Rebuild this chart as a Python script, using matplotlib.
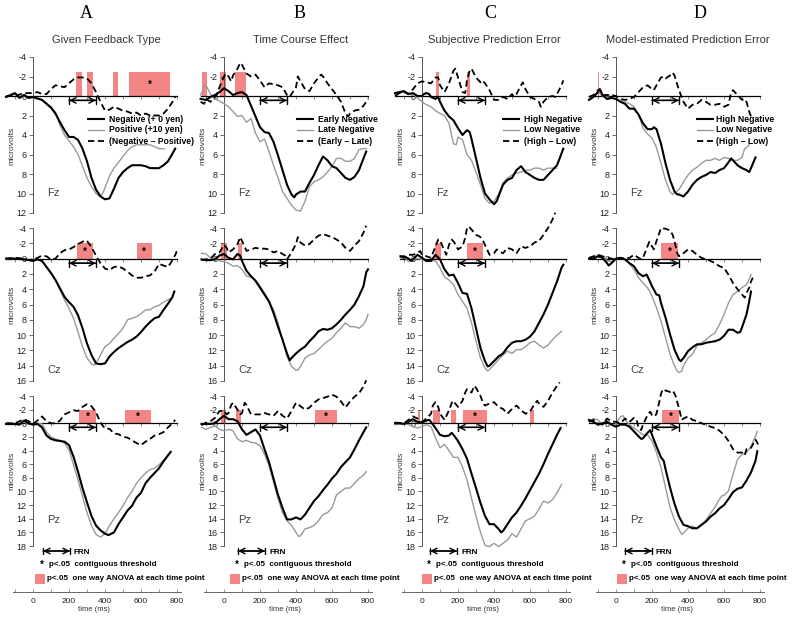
import matplotlib
matplotlib.use('Agg')
import matplotlib.pyplot as plt
from matplotlib.patches import Rectangle

plt.rcParams['font.family'] = ['Liberation Sans', 'DejaVu Sans']
plt.rcParams['axes.unicode_minus'] = False

# ---------------- data: (time ms, microvolts) ----------------
# A  Given Feedback Type
a_fz_black = [(-150, 0.1), (-125, -0.1), (-100, -0.3), (-75, 0.2), (-50, -0.1), (-25, 0.2), (0, 0.1), (50, 0.4),
              (100, 1.2), (125, 1.8), (150, 2.7), (175, 3.5), (200, 4.2), (225, 4.2), (250, 4.5), (275, 5.4),
              (300, 6.7), (325, 8.4), (350, 9.6), (375, 10.3), (400, 10.6), (425, 10.5), (450, 9.5), (475, 8.4),
              (500, 7.8), (525, 7.4), (550, 7.1), (575, 7.1), (600, 7.1), (625, 7.2), (650, 7.4), (675, 7.4),
              (700, 7.4), (725, 7.1), (750, 6.7), (775, 5.9), (790, 5.4)]
a_fz_gray = [(-150, 0.1), (-100, -0.2), (-75, 0.1), (-50, 0.0), (-25, 0.2), (0, 0.2), (50, 0.4), (100, 1.1),
             (125, 1.7), (150, 3.0), (175, 4.0), (200, 4.6), (225, 5.2), (250, 6.0), (275, 7.2), (300, 8.4),
             (325, 9.3), (350, 10.0), (370, 10.3), (385, 10.1), (400, 9.4), (425, 8.2), (450, 7.4), (475, 6.8),
             (500, 6.2), (525, 5.6), (550, 5.2), (575, 5.0), (600, 5.0), (625, 5.0), (650, 5.0), (675, 5.2),
             (700, 5.4), (730, 5.4)]
a_fz_diff = [(-150, 0.0), (-100, 0.0), (-50, -0.3), (0, -0.3), (25, -0.4), (50, -0.2), (75, -0.2), (100, -0.7),
             (125, -1.1), (150, -1.0), (175, -0.9), (200, -1.3), (225, -1.7), (250, -1.9), (275, -1.9),
             (300, -1.8), (325, -1.3), (350, -0.4), (375, 0.6), (400, 1.5), (425, 1.4), (450, 1.1), (475, 1.3),
             (500, 1.5), (525, 1.6), (550, 1.8), (575, 1.7), (600, 2.0), (625, 1.8), (650, 2.0), (675, 2.0),
             (700, 2.0), (725, 1.8), (750, 1.3), (775, 0.6), (790, 0.1)]
a_fz_sig = [(239, 270, False), (298, 335, False), (445, 474, False), (535, 760, True)]

a_cz_black = [(-150, 0.0), (-100, 0.0), (-50, 0.1), (-25, 0.2), (0, 0.3), (25, 0.1), (50, 0.3), (75, 1.1),
              (100, 1.9), (125, 2.8), (150, 3.9), (175, 5.0), (200, 5.7), (225, 6.3), (250, 7.4), (275, 9.1),
              (300, 11.1), (325, 12.6), (350, 13.7), (375, 13.8), (400, 13.7), (425, 12.8), (450, 12.2),
              (475, 11.7), (500, 11.3), (525, 10.9), (550, 10.6), (575, 10.2), (600, 9.6), (625, 8.9),
              (650, 8.3), (675, 7.8), (700, 7.6), (725, 6.7), (750, 5.9), (775, 5.0), (785, 4.3)]
a_cz_gray = [(-150, 0.0), (-100, 0.0), (-50, 0.1), (-25, 0.2), (0, 0.3), (25, 0.1), (50, 0.3), (75, 1.0),
             (100, 1.8), (125, 2.8), (150, 4.1), (175, 5.4), (200, 6.5), (225, 7.8), (250, 9.6), (275, 11.5),
             (300, 13.0), (325, 13.8), (340, 13.9), (350, 13.7), (375, 12.6), (400, 11.5), (425, 11.1),
             (450, 10.4), (475, 9.8), (500, 9.1), (525, 8.0), (550, 7.8), (575, 7.6), (600, 7.2), (625, 6.7),
             (650, 6.7), (675, 6.3), (700, 6.1), (725, 5.7), (750, 5.4), (775, 5.1)]
a_cz_diff = [(-150, 0.0), (-100, -0.1), (-50, 0.0), (-25, 0.2), (0, 0.1), (25, -0.1), (50, -0.4), (75, -0.3),
             (100, 0.1), (125, 0.0), (150, -0.7), (175, -1.1), (200, -1.2), (225, -1.5), (250, -1.9),
             (275, -2.2), (290, -2.4), (300, -2.3), (325, -1.5), (350, -0.4), (375, 0.6), (400, 1.3),
             (425, 1.5), (450, 1.1), (475, 1.0), (500, 1.3), (525, 1.7), (550, 2.2), (575, 2.5), (600, 2.5),
             (625, 2.3), (650, 2.2), (675, 1.7), (700, 0.7), (725, 0.9), (750, 1.1), (775, 0.2), (795, -0.7),
             (800, -1.3)]
a_cz_sig = [(245, 335, True), (575, 660, True)]

a_pz_black = [(-150, 0.1), (-100, 0.1), (-75, 0.2), (-50, -0.4), (-25, 0.0), (0, 0.2), (25, 0.1), (50, 0.6),
              (75, 1.8), (100, 2.3), (125, 2.5), (150, 2.6), (175, 2.7), (200, 3.2), (225, 4.9), (250, 7.1),
              (275, 9.5), (300, 11.6), (325, 13.6), (350, 15.0), (375, 15.7), (400, 16.2), (420, 16.4),
              (450, 16.0), (475, 14.8), (500, 13.8), (525, 12.8), (550, 12.1), (575, 10.9), (600, 10.2),
              (625, 8.8), (650, 8.0), (675, 7.3), (700, 6.6), (725, 5.6), (750, 4.7), (765, 4.2)]
a_pz_gray = [(-150, 0.2), (-100, 0.2), (-75, 0.1), (-50, -0.2), (-25, 0.1), (0, 0.2), (25, 0.0), (50, 0.1),
             (75, 1.3), (100, 2.0), (125, 2.3), (150, 2.5), (175, 2.9), (200, 3.9), (225, 6.1), (250, 8.3),
             (275, 10.7), (300, 13.1), (325, 15.0), (350, 16.3), (375, 16.7), (400, 16.2), (425, 15.0),
             (450, 14.0), (475, 13.1), (500, 12.1), (525, 10.9), (550, 10.0), (575, 8.8), (600, 8.0),
             (625, 7.3), (650, 6.8), (675, 6.6), (700, 6.1), (725, 5.4), (750, 4.7)]
a_pz_diff = [(-150, 0.0), (-100, 0.0), (-75, -0.3), (-50, -0.6), (-25, -0.3), (0, 0.1), (25, -0.4), (50, -1.0),
             (75, -0.3), (100, 0.0), (125, 0.0), (150, -0.4), (175, -1.3), (200, -1.6), (225, -1.9),
             (250, -1.8), (275, -2.4), (300, -2.8), (325, -2.5), (350, -1.6), (375, -0.1), (400, 0.8),
             (425, 0.8), (450, 1.5), (475, 1.6), (500, 2.0), (525, 2.1), (550, 2.5), (575, 2.9), (600, 3.2),
             (625, 2.7), (650, 2.3), (675, 1.8), (700, 1.6), (725, 1.3), (750, 0.6), (775, 0.0), (790, -0.5)]
a_pz_sig = [(203, 208, False), (255, 350, True), (510, 655, True)]

# B  Time Course Effect
b_fz_black = [(-130, 0.3), (-100, 0.4), (-75, 0.1), (-50, -0.1), (-25, -0.4), (0, -0.8), (25, -0.5), (50, -0.1),
              (75, -0.3), (100, -0.4), (125, -0.1), (150, 1.0), (175, 2.1), (200, 3.2), (225, 3.7), (250, 3.8),
              (275, 4.7), (300, 6.1), (325, 7.6), (350, 9.1), (375, 10.1), (390, 10.4), (400, 10.1),
              (425, 9.8), (450, 9.8), (475, 8.9), (500, 8.1), (525, 7.1), (550, 6.2), (575, 6.6), (600, 7.2),
              (625, 7.4), (650, 7.9), (675, 8.4), (700, 8.6), (725, 8.3), (750, 7.6), (775, 6.4), (790, 5.7)]
b_fz_gray = [(-130, -0.1), (-110, -0.9), (-100, -1.1), (-75, -0.2), (-50, 0.3), (-25, 0.5), (0, 0.8), (25, 1.1),
             (50, 1.6), (75, 2.1), (100, 2.0), (125, 2.7), (150, 2.3), (175, 3.8), (200, 4.7), (225, 4.4),
             (250, 5.7), (275, 7.1), (300, 8.4), (325, 9.8), (350, 10.5), (375, 11.2), (400, 11.7),
             (425, 11.8), (450, 10.8), (475, 9.3), (500, 8.8), (525, 8.6), (550, 8.3), (575, 7.8), (600, 7.2),
             (625, 6.4), (650, 6.4), (675, 6.7), (700, 6.7), (725, 6.4), (750, 5.5), (775, 5.4), (790, 5.4)]
b_fz_diff = [(-130, 0.6), (-110, 0.8), (-100, 0.3), (-75, 0.6), (-50, 0.1), (-40, -0.2), (-25, -0.9), (0, -2.0),
             (10, -2.3), (25, -2.0), (40, -1.5), (50, -2.1), (75, -2.8), (90, -3.4), (100, -3.2), (125, -2.3),
             (150, -2.0), (175, -2.2), (200, -1.6), (225, -0.9), (250, -1.3), (275, -1.2), (300, -1.1),
             (325, -0.9), (350, -0.1), (365, 0.1), (375, -0.2), (400, -0.9), (410, -2.0), (425, -1.5),
             (450, -0.7), (475, -0.5), (500, -1.3), (525, -1.9), (540, -2.2), (550, -2.0), (575, -1.3),
             (600, -0.7), (625, -0.1), (650, 0.6), (675, 1.8), (690, 2.1), (700, 1.8), (725, 1.5), (750, 1.4),
             (775, 1.0), (790, 0.6), (800, 0.3)]
b_fz_sig = [(-120, -94, False), (-20, 13, False), (59, 120, False)]

b_cz_black = [(-125, 0.1), (-100, 0.2), (-75, 0.2), (-50, 0.1), (-25, -0.4), (0, -0.6), (25, -0.1), (50, 0.1),
              (75, -0.6), (90, -0.4), (100, 0.3), (125, 1.6), (150, 2.3), (175, 2.9), (200, 3.8), (225, 4.7),
              (250, 5.6), (275, 7.1), (300, 8.9), (325, 10.6), (350, 12.4), (365, 13.3), (375, 13.0),
              (400, 12.4), (425, 11.9), (450, 11.5), (475, 10.8), (500, 10.2), (525, 9.5), (550, 9.2),
              (575, 9.3), (600, 9.1), (625, 8.6), (650, 8.0), (675, 7.3), (700, 6.7), (725, 6.0), (750, 4.9),
              (775, 3.6), (790, 1.8), (800, 1.4)]
b_cz_gray = [(-125, -0.7), (-100, -0.6), (-75, -0.1), (-50, 0.1), (-25, 0.3), (0, 0.4), (25, 0.6), (50, 1.0),
             (75, 0.9), (100, 1.4), (125, 2.3), (150, 2.4), (175, 2.8), (200, 3.6), (225, 4.5), (250, 5.6),
             (275, 6.7), (300, 8.4), (325, 10.6), (350, 12.8), (375, 14.1), (400, 14.6), (410, 14.6),
             (425, 14.1), (450, 13.0), (475, 12.6), (500, 12.4), (525, 11.9), (550, 11.3), (575, 10.8),
             (600, 10.4), (625, 9.7), (650, 9.1), (675, 8.4), (700, 8.9), (725, 8.9), (750, 9.1), (775, 8.6),
             (790, 8.0), (800, 7.3)]
b_cz_diff = [(-125, 0.2), (-100, 0.1), (-75, 0.0), (-50, -0.6), (-25, -0.8), (0, -1.8), (15, -1.4), (25, -0.8),
             (50, -1.2), (75, -1.9), (90, -2.8), (100, -2.3), (125, -1.0), (150, -1.2), (175, -1.4),
             (200, -1.3), (225, -1.3), (250, -1.2), (275, -0.8), (300, -1.0), (325, -0.6), (340, -0.4),
             (350, 0.1), (375, -0.8), (400, -1.9), (410, -2.8), (425, -2.1), (450, -1.7), (475, -1.9),
             (500, -2.5), (525, -3.0), (550, -3.2), (575, -3.0), (600, -2.8), (625, -2.5), (650, -2.1),
             (675, -1.4), (700, -1.0), (725, -1.7), (750, -2.3), (775, -3.4), (790, -4.3)]
b_cz_sig = [(-19, 15, False), (76, 99, False)]

b_pz_black = [(-125, 0.1), (-100, 0.1), (-75, 0.1), (-50, 0.0), (-25, -0.6), (0, -1.1), (25, -0.6), (50, -0.6),
              (75, -0.3), (100, 0.9), (125, 1.7), (150, 1.3), (175, 0.9), (200, 1.8), (225, 3.8), (250, 5.7),
              (275, 8.1), (300, 10.5), (325, 12.4), (350, 14.1), (375, 14.1), (400, 13.8), (425, 14.1),
              (450, 13.4), (475, 12.4), (500, 11.4), (525, 10.7), (550, 9.8), (575, 9.0), (600, 8.1),
              (625, 7.4), (650, 6.4), (675, 5.7), (700, 5.0), (725, 3.8), (750, 2.5), (775, 1.3), (790, 0.6)]
b_pz_gray = [(-125, 0.6), (-100, 0.9), (-75, 0.6), (-50, 0.4), (-25, 0.9), (0, 1.1), (25, 0.9), (50, 1.1),
             (75, 2.3), (100, 2.7), (125, 2.5), (150, 2.8), (175, 2.9), (200, 3.3), (225, 4.5), (250, 6.2),
             (275, 8.6), (300, 11.0), (325, 13.1), (350, 14.3), (375, 15.0), (400, 16.0), (415, 16.6),
             (425, 16.5), (450, 15.5), (475, 15.3), (500, 15.0), (525, 14.3), (550, 13.4), (575, 13.1),
             (600, 12.4), (625, 10.5), (650, 10.0), (675, 9.5), (700, 9.5), (725, 8.8), (750, 8.1),
             (775, 7.6), (790, 7.1)]
b_pz_diff = [(-125, 0.3), (-100, -0.1), (-75, -0.3), (-50, -0.8), (-25, -1.8), (0, -1.8), (15, -1.3), (25, -1.5),
             (40, -2.7), (50, -3.0), (75, -2.0), (90, -1.3), (100, -1.5), (115, -3.0), (125, -2.7), (150, -1.3),
             (175, -1.3), (200, -1.3), (225, -1.5), (250, -1.3), (275, -1.1), (300, -1.8), (325, -1.1),
             (350, -0.7), (375, -1.8), (400, -3.0), (425, -2.5), (450, -2.0), (475, -2.3), (500, -3.0),
             (525, -3.5), (550, -3.7), (575, -3.9), (600, -4.2), (625, -3.9), (650, -3.2), (675, -2.3),
             (700, -3.2), (725, -3.9), (750, -4.4), (775, -5.4), (790, -6.3)]
b_pz_sig = [(-17, 11, False), (67, 93, False), (503, 629, True)]

# C  Subjective Prediction Error
c_fz_black = [(-150, -0.3), (-125, -0.4), (-100, -0.5), (-75, -0.2), (-50, -0.3), (-25, 0.0), (0, 0.0),
              (10, -0.2), (25, -0.3), (40, -0.2), (50, 0.1), (75, 0.3), (90, 0.1), (100, 0.6), (125, 1.5),
              (150, 2.1), (175, 2.5), (200, 3.3), (225, 4.0), (250, 3.5), (265, 3.7), (275, 4.4), (300, 6.4),
              (325, 8.4), (350, 10.0), (375, 10.6), (400, 11.1), (415, 10.8), (425, 10.3), (450, 9.1),
              (475, 8.6), (500, 8.4), (525, 7.6), (550, 7.2), (575, 7.8), (600, 8.1), (625, 8.4), (650, 8.6),
              (675, 8.6), (700, 8.1), (725, 7.6), (750, 7.1), (775, 5.9), (785, 5.4)]
c_fz_gray = [(-150, -0.2), (-100, -0.4), (-50, -0.2), (0, 0.6), (25, 0.9), (50, 1.1), (75, 1.5), (100, 1.8),
             (125, 2.0), (150, 2.8), (175, 4.9), (190, 5.0), (200, 4.2), (225, 4.5), (250, 6.0), (275, 6.6),
             (300, 7.8), (325, 9.1), (350, 10.5), (375, 11.0), (400, 10.8), (425, 10.1), (450, 8.9),
             (475, 8.4), (500, 8.1), (525, 7.9), (550, 7.8), (575, 7.6), (600, 7.6), (625, 7.4), (650, 7.4),
             (675, 7.6), (700, 7.4), (725, 7.4), (750, 7.4)]
c_fz_diff = [(-150, 0.0), (-125, -0.3), (-100, -0.4), (-75, -0.2), (-50, -0.7), (-25, -1.3), (0, -1.5),
             (25, -1.4), (50, -1.3), (75, -1.9), (90, -1.9), (100, -1.1), (125, -0.4), (150, -1.3),
             (175, -2.6), (185, -2.8), (200, -1.9), (225, -0.4), (240, -0.3), (250, -1.6), (265, -2.6),
             (275, -2.8), (300, -1.9), (325, -1.4), (335, -1.6), (350, -1.3), (375, -0.6), (400, 0.4),
             (425, 0.4), (450, 0.1), (475, 0.3), (500, -0.2), (510, 0.1), (525, -0.2), (550, -1.1),
             (560, -1.4), (575, -0.7), (600, 0.1), (625, 0.3), (650, 0.6), (660, 1.1), (675, 0.6), (700, 0.1),
             (725, 0.0), (740, 0.1), (750, -0.2), (775, -1.1), (785, -1.6)]
c_fz_sig = [(75, 94, False), (248, 267, False)]

c_cz_black = [(-120, -0.3), (-100, -0.3), (-75, 0.0), (-60, 0.3), (-50, 0.1), (-25, -0.5), (0, -0.1), (25, 0.3),
              (50, 0.3), (75, -0.5), (100, 0.1), (125, 1.4), (150, 2.2), (175, 2.1), (200, 3.2), (225, 4.5),
              (250, 4.6), (275, 6.5), (300, 9.1), (325, 11.7), (350, 13.4), (365, 14.1), (375, 14.0),
              (400, 13.4), (425, 12.8), (450, 12.4), (475, 11.6), (500, 11.0), (525, 10.8), (550, 10.8),
              (575, 10.6), (600, 10.2), (625, 9.5), (650, 8.4), (675, 7.3), (700, 6.0), (725, 4.5), (750, 3.0),
              (775, 1.2), (785, 0.8)]
c_cz_gray = [(-120, 0.0), (-100, -0.3), (-75, 0.4), (-50, 0.1), (-25, 0.0), (0, 0.1), (25, 0.4), (50, 0.3),
             (75, 0.3), (100, 1.2), (125, 2.4), (150, 2.8), (175, 3.4), (200, 4.7), (225, 5.6), (250, 6.5),
             (275, 8.4), (300, 10.8), (325, 13.0), (350, 14.3), (365, 14.7), (375, 14.5), (400, 13.9),
             (425, 13.2), (450, 12.6), (475, 12.1), (500, 12.4), (525, 11.9), (550, 11.9), (575, 11.5),
             (600, 11.0), (625, 10.8), (650, 11.3), (675, 11.7), (700, 11.3), (725, 10.6), (750, 10.0),
             (775, 9.5)]
c_cz_diff = [(-120, -0.3), (-100, -0.1), (-75, -0.5), (-50, -0.5), (-25, -0.7), (-10, -1.0), (0, -0.5),
             (25, -0.3), (50, -0.1), (60, -0.7), (75, -1.6), (90, -2.5), (100, -2.4), (125, -1.0), (135, -0.5),
             (150, -1.8), (165, -2.5), (180, -2.1), (200, -1.2), (225, -1.6), (240, -2.7), (250, -4.0),
             (260, -4.2), (275, -3.8), (300, -3.1), (320, -2.9), (335, -2.5), (350, -1.8), (375, -0.5),
             (400, -0.7), (415, -1.2), (425, -1.0), (450, -0.7), (475, -1.4), (500, -1.2), (525, -0.7),
             (550, -1.6), (575, -1.4), (600, -1.6), (625, -2.1), (650, -2.3), (675, -3.1), (700, -4.0),
             (725, -5.1), (740, -6.0)]
c_cz_sig = [(71, 108, False), (248, 340, True)]

c_pz_black = [(-150, 0.0), (-120, 0.0), (-100, 0.1), (-75, -0.2), (-50, -0.6), (-25, -0.2), (0, -0.1),
              (25, -0.4), (40, -0.5), (50, -0.2), (75, 0.7), (100, 1.7), (125, 1.9), (150, 1.8), (165, 1.4),
              (175, 1.7), (200, 2.6), (225, 3.8), (250, 5.2), (275, 7.4), (300, 9.5), (325, 11.7), (350, 13.6),
              (375, 14.8), (400, 14.8), (425, 15.5), (440, 16.0), (450, 15.8), (475, 14.8), (500, 13.8),
              (525, 13.1), (550, 12.1), (575, 11.0), (600, 9.8), (625, 8.6), (650, 7.4), (675, 6.0),
              (700, 4.5), (725, 3.1), (750, 1.7), (770, 0.7)]
c_pz_gray = [(-150, 0.2), (-100, 0.1), (-75, 0.2), (-50, 0.5), (-25, 0.7), (0, 0.5), (25, 0.2), (50, 0.5),
             (75, 2.1), (100, 3.6), (125, 3.1), (150, 4.0), (175, 5.0), (200, 5.0), (225, 6.4), (250, 8.3),
             (275, 11.0), (300, 13.6), (325, 16.0), (350, 17.9), (375, 18.1), (400, 17.6), (425, 18.1),
             (450, 17.6), (475, 17.1), (500, 16.2), (525, 16.7), (550, 15.5), (575, 14.3), (600, 14.0),
             (625, 13.6), (650, 12.6), (675, 11.4), (700, 11.7), (725, 11.2), (750, 10.2), (775, 9.0)]
c_pz_diff = [(-150, -0.1), (-100, 0.0), (-75, -0.5), (-50, -1.0), (-25, -0.7), (0, -0.2), (25, -0.7),
             (50, -1.4), (60, -2.6), (75, -3.1), (90, -2.4), (100, -1.4), (125, -0.5), (150, -1.9),
             (170, -3.3), (185, -2.9), (200, -2.4), (225, -3.3), (240, -4.5), (250, -5.0), (275, -4.5),
             (290, -5.5), (300, -5.2), (325, -4.0), (340, -2.9), (350, -2.6), (375, -2.9), (400, -3.1),
             (425, -2.4), (450, -2.1), (475, -1.4), (500, -2.1), (525, -2.6), (550, -1.9), (575, -1.4),
             (600, -1.7), (620, -2.6), (640, -3.3), (650, -2.9), (675, -2.4), (700, -3.3), (725, -4.5),
             (750, -5.5), (765, -6.0)]
c_pz_sig = [(-25, -10, False), (62, 99, False), (159, 190, False), (226, 360, True), (601, 624, False)]

# D  Model-estimated Prediction Error
d_fz_black = [(-150, 0.4), (-125, 0.1), (-100, -0.4), (-90, -0.7), (-75, -0.1), (-50, 0.3), (-25, 0.2),
              (0, 0.3), (25, 0.6), (50, 0.8), (75, 1.3), (100, 1.3), (125, 1.9), (150, 2.8), (175, 3.4),
              (200, 3.4), (210, 3.2), (225, 3.4), (250, 4.9), (275, 6.9), (300, 8.6), (325, 9.8), (340, 10.1),
              (350, 10.1), (375, 10.3), (400, 9.8), (425, 9.1), (450, 8.6), (475, 8.3), (500, 8.1), (525, 7.8),
              (550, 7.9), (575, 7.6), (600, 7.4), (625, 6.8), (640, 6.4), (650, 6.6), (675, 7.1), (700, 7.4),
              (725, 7.6), (740, 7.8), (750, 7.4), (775, 6.3)]
d_fz_gray = [(-150, 0.1), (-125, -0.1), (-100, -0.4), (-75, 0.0), (-50, 0.1), (0, 0.3), (50, 0.6), (75, 0.8),
             (100, 1.1), (125, 1.9), (150, 3.3), (175, 3.9), (200, 4.3), (225, 5.3), (250, 6.9), (275, 8.6),
             (300, 9.8), (315, 10.1), (325, 9.9), (350, 9.6), (375, 8.8), (400, 8.1), (425, 7.6), (450, 7.3),
             (475, 6.9), (500, 6.6), (525, 6.6), (550, 6.4), (575, 6.6), (600, 6.3), (625, 6.4), (650, 6.6),
             (675, 6.6), (700, 6.3), (715, 5.4), (725, 5.3), (740, 5.0)]
d_fz_diff = [(-150, 0.1), (-125, -0.1), (-100, -0.6), (-90, -0.7), (-75, -0.1), (-50, -0.1), (-25, -0.1),
             (0, 0.0), (25, 0.3), (50, 0.4), (75, 0.3), (100, 0.1), (125, -0.4), (150, -0.9), (175, -1.1),
             (200, -0.7), (210, -0.6), (225, -1.1), (250, -1.9), (265, -2.0), (275, -1.8), (300, -2.1),
             (315, -2.4), (325, -2.1), (340, -1.2), (350, -0.6), (375, 0.6), (400, 1.3), (425, 0.9),
             (450, 0.8), (475, 0.4), (500, 0.6), (525, 0.9), (550, 0.9), (575, 0.8), (600, 1.1), (625, 0.9),
             (640, -0.4), (650, -0.6), (675, -0.1), (700, 0.4), (715, 0.3), (725, 0.6), (740, 1.6),
             (750, 2.1), (760, 2.3)]
d_fz_sig = [(-100, -95, False)]

d_cz_black = [(-150, 0.0), (-125, 0.0), (-100, -0.3), (-75, -0.1), (-50, 0.6), (-40, 0.9), (-25, 0.6), (0, 0.0),
              (25, -0.1), (50, 0.1), (75, 0.6), (100, 1.0), (125, 1.9), (150, 2.3), (170, 2.1), (175, 2.3),
              (200, 3.6), (225, 4.7), (240, 4.8), (250, 5.8), (275, 7.7), (300, 9.9), (325, 11.9), (350, 13.2),
              (360, 13.4), (375, 13.0), (400, 12.1), (425, 11.6), (450, 11.2), (475, 11.2), (500, 11.0),
              (525, 10.9), (550, 10.8), (575, 10.6), (600, 10.1), (625, 9.3), (650, 9.3), (675, 9.7),
              (690, 9.6), (700, 9.0), (725, 7.3), (740, 5.6), (750, 4.3)]
d_cz_gray = [(-150, 0.0), (-125, -0.1), (-100, -0.5), (-75, -0.3), (-50, 0.3), (-25, 0.4), (0, 0.0), (25, -0.1),
             (50, 0.1), (75, 0.7), (100, 1.4), (125, 2.5), (150, 3.2), (175, 3.8), (200, 4.9), (225, 6.4),
             (250, 8.2), (275, 10.3), (300, 12.5), (325, 14.0), (340, 14.7), (350, 14.9), (365, 14.7),
             (375, 14.0), (400, 13.0), (425, 12.5), (450, 11.4), (475, 11.0), (500, 10.6), (525, 10.1),
             (550, 9.7), (575, 8.6), (600, 7.3), (625, 5.8), (650, 4.7), (675, 4.3), (700, 3.8), (725, 3.4),
             (740, 2.7), (750, 2.1)]
d_cz_diff = [(-150, -0.1), (-125, -0.3), (-100, -0.5), (-75, -0.3), (-50, -0.1), (-25, 0.0), (0, 0.1),
             (25, -0.1), (50, 0.0), (75, -0.1), (100, -0.5), (125, -0.1), (140, 0.1), (150, -0.1), (175, -1.6),
             (185, -2.2), (200, -1.6), (210, -1.2), (225, -2.3), (240, -3.3), (250, -4.0), (275, -3.9),
             (300, -3.7), (315, -3.1), (325, -2.3), (340, -0.7), (350, -0.3), (375, -0.7), (400, -1.2),
             (425, -1.0), (450, -0.5), (475, -0.1), (500, 0.1), (525, 0.3), (550, 0.6), (575, 1.0), (600, 1.2),
             (625, 2.1), (650, 3.2), (675, 4.0), (700, 4.7), (715, 5.1), (725, 4.5), (740, 3.8), (750, 3.0),
             (760, 2.5)]
d_cz_sig = [(252, 344, True)]

d_pz_black = [(-150, -0.5), (-125, -0.2), (-100, 0.2), (-75, 0.0), (-50, -0.2), (-25, 0.2), (0, 0.5), (25, 0.2),
              (50, 0.2), (75, 0.5), (100, 1.2), (125, 1.9), (140, 2.3), (150, 2.2), (175, 1.4), (190, 1.0),
              (200, 1.7), (225, 3.4), (250, 5.0), (265, 5.5), (275, 6.7), (300, 9.4), (325, 11.8), (350, 13.7),
              (375, 14.9), (400, 15.1), (425, 15.4), (450, 15.4), (475, 14.9), (500, 14.4), (525, 13.7),
              (550, 13.2), (575, 12.5), (600, 12.0), (625, 11.1), (650, 10.1), (675, 9.6), (700, 9.4),
              (725, 8.4), (750, 7.2), (775, 5.5), (785, 4.1)]
d_pz_gray = [(-150, -0.3), (-125, -0.7), (-100, -0.5), (-75, 0.2), (-50, -0.5), (-25, 0.2), (-10, 0.5), (0, 0.0),
             (25, -1.0), (40, -1.1), (50, -0.5), (75, 0.2), (100, 0.7), (125, 1.2), (150, 1.7), (175, 1.7),
             (200, 2.6), (225, 4.3), (250, 6.5), (275, 9.4), (300, 12.3), (325, 14.2), (350, 15.6),
             (365, 16.3), (375, 16.1), (400, 15.4), (425, 15.1), (450, 15.4), (475, 14.9), (500, 14.2),
             (525, 13.2), (550, 12.3), (575, 11.1), (590, 10.6), (600, 10.6), (625, 9.9), (650, 7.5),
             (675, 5.3), (700, 4.6), (725, 4.3), (750, 3.4), (775, 1.9), (785, 1.2)]
d_pz_diff = [(-150, -0.2), (-125, -0.5), (-100, 0.0), (-75, 0.2), (-50, -0.7), (-25, -0.3), (0, -0.2), (25, 0.0),
             (50, -0.7), (75, -0.2), (100, -0.8), (115, -0.5), (125, 0.7), (140, 1.0), (150, 0.2), (175, -1.2),
             (190, -1.7), (200, -1.2), (215, -1.0), (225, -1.4), (240, -3.1), (250, -4.3), (260, -5.0),
             (275, -4.8), (300, -4.6), (315, -4.8), (330, -4.1), (350, -2.2), (365, -0.5), (375, -0.7),
             (400, -1.0), (425, -0.5), (450, -0.3), (475, 0.0), (500, 0.2), (525, 0.5), (550, 0.7), (575, 1.1),
             (600, 1.7), (625, 2.6), (650, 3.8), (675, 4.3), (700, 4.3), (715, 4.7), (725, 3.8), (740, 3.8),
             (750, 3.6), (765, 2.9), (775, 2.4), (790, 3.1)]
d_pz_sig = [(254, 352, True)]

letters = ['A', 'B', 'C', 'D']
titles = ['Given Feedback Type', 'Time Course Effect', 'Subjective Prediction Error',
          'Model-estimated Prediction Error']
legend_labels = [['Negative (+ 0 yen)', 'Positive (+10 yen)', '(Negative \u2013 Positive)'],
                 ['Early Negative', 'Late Negative', '(Early \u2013 Late)'],
                 ['High Negative', 'Low Negative', '(High \u2013 Low)'],
                 ['High Negative', 'Low Negative', '(High \u2013 Low)']]
electrodes = ['Fz', 'Cz', 'Pz']
y_max = [12, 16, 18]
time_ticks = [0, 200, 400, 600, 800]
frn_window = (200, 350)

panels = [
    [(a_fz_black, a_fz_gray, a_fz_diff, a_fz_sig), (a_cz_black, a_cz_gray, a_cz_diff, a_cz_sig),
     (a_pz_black, a_pz_gray, a_pz_diff, a_pz_sig)],
    [(b_fz_black, b_fz_gray, b_fz_diff, b_fz_sig), (b_cz_black, b_cz_gray, b_cz_diff, b_cz_sig),
     (b_pz_black, b_pz_gray, b_pz_diff, b_pz_sig)],
    [(c_fz_black, c_fz_gray, c_fz_diff, c_fz_sig), (c_cz_black, c_cz_gray, c_cz_diff, c_cz_sig),
     (c_pz_black, c_pz_gray, c_pz_diff, c_pz_sig)],
    [(d_fz_black, d_fz_gray, d_fz_diff, d_fz_sig), (d_cz_black, d_cz_gray, d_cz_diff, d_cz_sig),
     (d_pz_black, d_pz_gray, d_pz_diff, d_pz_sig)],
]

# ---------------- layout (pixels) ----------------
W, H = 800, 622
S = 0.18                       # px per ms
col_x0 = [33, 224, 422, 616]   # pixel of t = 0
letter_x = [86, 300, 490, 700]
title_x = [106, 301, 494, 688]
leg_line_x = [88, 297, 503, 697]
leg_text_x = [109, 318, 524, 716]
key_x = [35, 230, 422, 617]
row_top = [57, 228, 396]
row_bot = [213, 381, 546]
box_top = [-2.5, -2.0, -2.0]
arrow_y = [0.45, 0.6, 0.6]
elec_y = [10, 14.6, 14.2]
ylabel_y = [0.43, 0.5, 0.5]

PINK = '#f38585'
GRAY = '#9a9a9a'
DASH = (0, (3.5, 2))
TXT = '#333333'


def fx(x):
    return x / W


def fy(y):
    return 1 - y / H


def frn_arrow(ax, x0, x1, y):
    for style in ['<->, head_length=0.4, head_width=0.2', '|-|, widthA=0.25, widthB=0.25']:
        ax.annotate('', xy=(x1, y), xytext=(x0, y),
                    arrowprops=dict(arrowstyle=style, lw=1.0, color='black', shrinkA=0, shrinkB=0),
                    annotation_clip=False)


fig = plt.figure(figsize=(W / 100, H / 100), dpi=100)
fig.patch.set_facecolor('white')

# overlay in pixel units (y downwards) for headings and keys
ov = fig.add_axes([0, 0, 1, 1], zorder=10)
ov.set_xlim(0, W)
ov.set_ylim(H, 0)
ov.axis('off')

for c in range(4):
    x0 = col_x0[c]
    left = x0 - 160 * S
    ov.text(letter_x[c], 14, letters[c], ha='center', va='center', fontsize=13,
            family=['Liberation Serif', 'DejaVu Serif'])
    ov.text(title_x[c], 40, titles[c], ha='center', va='center', fontsize=8, color=TXT)

    for r in range(3):
        black, gray, diff, sig = panels[c][r]
        ax = fig.add_axes([fx(left), fy(row_bot[r]), fx(1000 * S), (row_bot[r] - row_top[r]) / H])
        ax.set_xlim(-160, 840)
        ax.set_ylim(y_max[r], -4)
        ax.patch.set_alpha(0)
        for s in ['top', 'right']:
            ax.spines[s].set_visible(False)
        ax.spines['left'].set_position(('data', 0))
        ax.spines['left'].set_bounds(-4, y_max[r])
        ax.spines['left'].set_color('#555555')
        ax.spines['left'].set_linewidth(0.7)
        ax.spines['bottom'].set_position(('data', 0))
        ax.spines['bottom'].set_bounds(black[0][0], 800)
        ax.spines['bottom'].set_linewidth(0.9)
        ax.spines['bottom'].set_zorder(2)
        ax.set_yticks(range(-4, y_max[r] + 1, 2))
        ax.set_xticks(range(-100, 801, 100))
        ax.set_xticklabels([])
        ax.tick_params(axis='y', length=3, width=0.6, pad=1.5, labelsize=6.5, colors='#555555',
                       labelcolor='#222222')
        ax.tick_params(axis='x', length=2, width=0.5, direction='out', colors='#555555')
        ax.set_ylabel('microvolts', fontsize=6, color=TXT)
        ax.yaxis.set_label_coords(0.062, ylabel_y[r])

        for t0, t1, star in sig:
            ax.bar(t0, box_top[r], width=t1 - t0, bottom=0, align='edge', color=PINK,
                   linewidth=0, zorder=1)
            if star:
                ax.text((t0 + t1) / 2, box_top[r] * 0.45, '*', ha='center', va='center',
                        fontsize=7, fontweight='bold', zorder=5)

        ax.plot([p[0] for p in gray], [p[1] for p in gray], color=GRAY, lw=1.0, zorder=3, clip_on=False)
        ax.plot([p[0] for p in black], [p[1] for p in black], color='black', lw=1.5, zorder=4,
                clip_on=False)
        ax.plot([p[0] for p in diff], [p[1] for p in diff], color='black', lw=1.3, ls=DASH, zorder=4,
                clip_on=False)

        frn_arrow(ax, frn_window[0], frn_window[1], arrow_y[r])
        ax.text(80, elec_y[r], electrodes[r], ha='left', va='center', fontsize=8, color='#444444')

    # line legend inside Fz panel
    for i, (lab, col, lw, ls) in enumerate(zip(legend_labels[c], ['black', GRAY, 'black'],
                                                 [1.5, 1.0, 1.3], ['-', '-', DASH])):
        yy = [119, 130, 141][i]
        ov.plot([leg_line_x[c], leg_line_x[c] + 16], [yy, yy], color=col, lw=lw, ls=ls)
        ov.text(leg_text_x[c], yy, lab, ha='left', va='center', fontsize=6.2, fontweight='bold')

    # key below the panels
    kx = key_x[c]
    frn_arrow(ov, kx + 8, kx + 35, 551)
    ov.text(kx + 39, 552, 'FRN', ha='left', va='center', fontsize=5.8, fontweight='bold')
    ov.text(kx + 7, 565, '*', ha='center', va='center', fontsize=7, fontweight='bold')
    ov.text(kx + 14, 564, 'p<.05  contiguous threshold', ha='left', va='center',
            fontsize=5.8, fontweight='bold')
    ov.add_patch(Rectangle((kx, 574), 10, 10, color=PINK, lw=0))
    ov.text(kx + 12, 579, 'p<.05  one way ANOVA at each time point', ha='left',
            va='center', fontsize=5.8, fontweight='bold')

    # time axis
    tax = fig.add_axes([fx(left), fy(592), fx(1000 * S), 0.5 / H])
    tax.set_xlim(-160, 840)
    tax.patch.set_alpha(0)
    for s in ['top', 'right', 'left']:
        tax.spines[s].set_visible(False)
    tax.spines['bottom'].set_bounds(-110, 820)
    tax.spines['bottom'].set_color('#666666')
    tax.spines['bottom'].set_linewidth(0.7)
    tax.set_yticks([])
    tax.set_xticks(time_ticks)
    tax.set_xticks(range(-100, 801, 100), minor=True)
    tax.tick_params(axis='x', which='both', direction='in', length=2, width=0.5, colors='#666666',
                    labelsize=6, labelcolor='#222222', pad=4)
    tax.set_xlabel('time (ms)', fontsize=5.5, labelpad=1, color=TXT)

plt.savefig('out.png', dpi=100)
